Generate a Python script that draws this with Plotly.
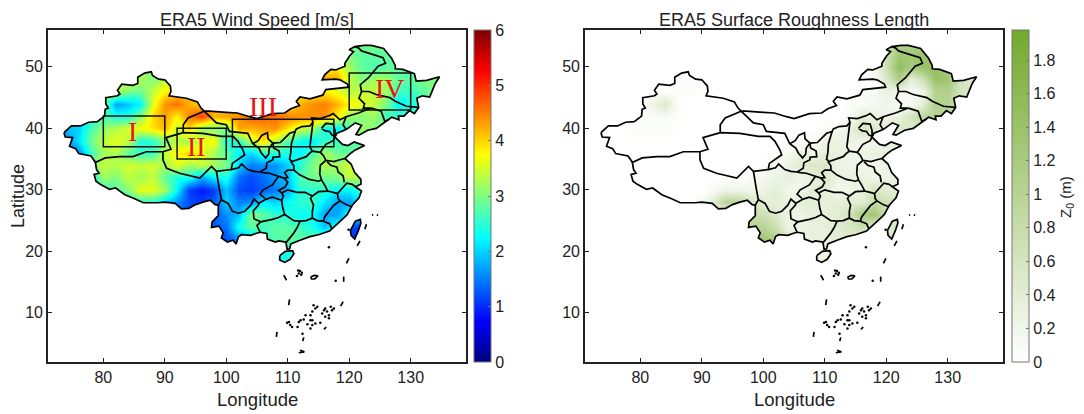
import plotly.graph_objects as go
from plotly.subplots import make_subplots

# grid of both fields (2 degree steps)
lons = list(range(72, 138, 2))
lats = list(range(18, 56, 2))

wind = [
    [2.0,2.0,2.0,2.0,2.0,2.0,2.0,2.0,2.0,2.0,2.0,2.0,2.0,2.0,2.0,2.0,2.0,2.0,2.4,2.4,2.0,2.0,2.0,2.0,1.2,1.2,1.2,1.2,1.2,1.2,1.2,1.2,1.2],
    [2.0,2.0,2.0,2.0,2.0,2.0,2.0,2.0,2.0,2.0,2.0,2.0,2.0,2.0,2.0,2.0,2.0,2.0,2.4,2.4,2.4,2.6,2.6,2.4,1.2,1.2,1.2,1.2,1.2,1.2,1.2,1.2,1.2],
    [1.2,1.2,1.2,1.2,1.2,1.2,1.2,1.2,1.2,1.2,1.2,1.2,1.2,1.2,1.2,1.6,1.8,2.6,2.7,2.8,2.8,2.8,3.0,2.6,1.1,1.0,1.2,1.2,1.2,1.2,1.2,1.2,1.2],
    [1.4,1.4,1.4,1.4,1.4,1.4,1.4,1.4,1.4,1.4,1.4,1.4,1.4,1.3,1.4,2.4,2.8,2.6,2.8,2.8,2.6,2.4,1.9,2.5,1.2,1.0,1.2,1.2,1.2,1.2,1.2,1.2,1.2],
    [1.3,1.3,1.3,1.3,1.3,1.3,1.3,1.3,1.3,1.3,1.3,1.3,1.3,1.3,1.6,1.9,3.0,2.8,2.5,2.4,2.3,2.3,1.7,1.7,2.4,2.4,2.4,2.4,2.4,2.4,2.4,2.4,2.4],
    [2.5,2.5,2.5,2.5,2.5,2.5,2.5,2.5,2.5,2.0,1.6,1.2,1.1,1.3,2.0,1.5,1.6,2.2,2.0,2.3,2.5,2.6,2.1,1.7,1.7,2.2,2.2,2.2,2.2,2.2,2.2,2.2,2.2],
    [2.5,2.5,2.5,2.5,2.5,2.8,3.0,3.6,3.6,3.2,2.2,1.1,0.9,1.1,1.9,1.2,1.1,1.3,1.5,1.8,2.5,2.5,2.5,2.2,2.2,2.6,2.6,2.6,2.6,2.6,2.6,2.6,2.6],
    [2.2,2.2,2.2,2.2,3.2,3.0,3.4,3.2,3.4,2.8,2.4,2.4,1.8,2.2,2.4,1.4,1.2,1.4,1.7,1.9,2.7,2.9,2.9,3.0,3.4,3.2,3.2,3.2,3.2,3.2,3.2,3.2,3.2],
    [3.0,3.0,3.0,3.0,3.4,3.3,3.5,3.4,3.5,3.2,3.6,3.2,3.4,3.2,3.0,2.0,1.5,1.6,1.6,2.0,2.5,3.0,3.3,3.2,3.5,3.4,3.4,3.4,3.4,3.4,3.4,3.4,3.4],
    [1.4,1.4,1.6,2.6,3.2,3.3,2.8,2.6,2.6,3.4,3.8,4.0,3.6,3.2,2.8,2.2,2.0,2.5,2.5,2.4,2.2,2.7,3.2,2.9,2.8,2.8,2.8,2.8,2.8,2.8,2.8,2.8,2.8],
    [1.5,1.5,2.1,2.9,3.4,3.6,3.4,2.4,2.5,3.0,3.4,3.2,3.6,3.8,2.4,2.5,3.4,3.9,3.3,2.7,2.3,2.1,2.6,2.6,2.8,2.8,2.8,2.8,2.8,2.8,2.8,2.8,2.8],
    [2.0,1.9,2.0,2.7,3.1,3.3,3.5,3.7,3.9,4.2,3.4,4.0,3.1,3.0,3.0,4.3,4.2,4.3,4.4,3.9,3.5,3.3,2.3,2.2,2.6,3.2,3.0,3.0,3.0,3.0,3.0,3.0,3.0],
    [2.0,2.0,2.0,2.4,2.7,2.4,2.4,3.0,4.0,4.3,3.8,4.5,4.9,4.2,4.3,4.4,4.7,4.7,4.6,4.5,4.4,4.4,4.4,3.8,3.2,3.0,3.2,2.6,2.6,2.6,2.6,2.6,2.6],
    [3.0,3.0,3.0,3.0,3.0,1.7,1.9,2.2,3.6,4.4,4.6,4.2,4.0,4.0,4.0,4.0,4.0,4.0,4.0,3.8,4.2,4.4,4.5,4.2,3.8,3.6,3.4,3.0,2.2,2.4,2.6,2.6,2.6],
    [3.2,3.2,3.2,3.2,3.2,3.3,3.0,2.9,3.4,3.8,4.0,4.0,4.0,4.0,4.0,4.0,4.0,4.0,4.0,3.8,3.8,3.8,3.8,3.6,3.3,3.4,3.4,3.2,2.6,2.6,2.8,3.0,3.0],
    [3.5,3.5,3.5,3.5,3.5,3.5,3.4,3.3,3.0,3.4,3.5,3.5,3.5,3.5,3.5,3.5,3.5,3.5,3.5,3.5,3.5,4.3,4.3,4.3,3.4,3.0,3.2,3.2,2.8,2.8,3.0,3.0,3.0],
    [3.0,3.0,3.0,3.0,3.0,3.0,3.0,3.0,3.0,3.0,3.0,3.0,3.0,3.0,3.0,3.0,3.0,3.0,3.0,3.0,3.0,3.8,3.8,3.8,3.2,2.8,2.7,2.8,2.8,2.8,2.8,2.8,2.8],
    [2.8,2.8,2.8,2.8,2.8,2.8,2.8,2.8,2.8,2.8,2.8,2.8,2.8,2.8,2.8,2.8,2.8,2.8,2.8,2.8,2.8,2.8,2.8,3.0,3.0,2.8,2.8,2.8,2.8,2.8,2.8,2.8,2.8],
    [2.8,2.8,2.8,2.8,2.8,2.8,2.8,2.8,2.8,2.8,2.8,2.8,2.8,2.8,2.8,2.8,2.8,2.8,2.8,2.8,2.8,2.8,2.8,3.0,3.0,3.0,3.0,3.0,3.0,3.0,3.0,3.0,3.0],
]

roughness = [
    [0,0,0,0,0,0,0,0,0,0,0,0,0,0,0,0,0,0,.25,.25,.25,.25,.25,.25,.5,.4,0,0,0,0,0,0,0],
    [0,0,0,0,0,0,0,0,0,0,0,0,0,0,0,0,0,0,.25,.25,.25,.25,.25,.25,.5,.4,0,0,0,0,0,0,0],
    [0,0,0,0,0,0,0,0,0,0,0,0,0,1.2,1.3,1.1,.5,.3,.35,.3,.4,.4,.4,.4,.5,.4,0,0,0,0,0,0,0],
    [0,0,0,0,0,0,0,0,0,0,0,0,0,1.0,1.0,.7,.25,.25,.3,.35,.45,.55,.7,.4,.5,.5,0,0,0,0,0,0,0],
    [0,0,0,0,0,0,0,0,0,0,0,0,0,.8,.7,.5,.2,.25,.35,.35,.4,.6,1.2,1.3,.7,.5,0,0,0,0,0,0,0],
    [0,0,0,0,0,0,0,0,0,.1,.5,1.0,1.0,.6,.4,.35,.3,.35,.4,.35,.35,.45,.4,.8,.7,.5,0,0,0,0,0,0,0],
    [0,0,0,0,0,0,0,0,0,0,.1,.25,.2,.2,.25,.4,.15,.2,.4,.4,.15,.2,.3,.6,.4,.4,0,0,0,0,0,0,0],
    [0,0,0,0,0,0,0,0,0,0,0,0,0,.1,.15,.25,.35,.2,.35,.5,.25,.3,.3,.2,.25,.3,0,0,0,0,0,0,0],
    [0,0,0,0,0,0,0,0,0,0,0,0,0,0,.03,.15,.3,.4,.5,.5,.25,.2,.2,.2,.25,.25,0,0,0,0,0,0,0],
    [0,0,0,0,0,0,0,0,0,0,0,0,0,0,0,.05,.1,.3,.2,.35,.3,.25,.25,.3,.3,.3,0,0,0,0,0,0,0],
    [0,0,0,0,0,0,0,0,0,0,0,0,0,0,0,0,.05,.05,.1,.25,.3,.25,.2,.2,.3,.3,0,0,0,0,0,0,0],
    [0,0,0,.03,.05,.05,.05,.02,0,0,0,0,0,0,0,0,0,0,0,.05,.1,.3,.6,.5,.4,.5,.5,.5,.5,0,0,0,0],
    [0,0,0,.03,.05,.05,.08,.03,0,0,0,0,0,0,0,0,0,0,0,0,0,.05,.4,.25,.25,.3,.6,.9,1.0,.8,.5,0,0],
    [0,0,0,0,.05,.25,.5,.05,0,0,0,0,0,0,0,0,0,0,0,0,0,.05,.08,.15,.2,.1,.1,.4,1.1,1.0,.8,.5,0],
    [0,0,0,0,0,.02,.02,.03,.03,.02,0,0,0,0,0,0,0,0,0,0,0,.02,.08,.1,.3,.15,.08,.2,1.0,1.1,.6,.5,.5],
    [0,0,0,0,0,0,.03,.05,.1,.03,0,0,0,0,0,0,0,0,0,0,0,0,.02,.1,.5,1.1,.35,.7,1.4,1.3,.6,.5,.5],
    [0,0,0,0,0,0,0,0,0,0,0,0,0,0,0,0,0,0,0,0,0,0,0,.15,.7,1.5,1.2,1.4,1.5,1.2,.6,0,0],
    [0,0,0,0,0,0,0,0,0,0,0,0,0,0,0,0,0,0,0,0,0,0,0,.15,.7,1.3,1.3,1.4,1.4,1.0,0,0,0],
    [0,0,0,0,0,0,0,0,0,0,0,0,0,0,0,0,0,0,0,0,0,0,0,.15,.7,1.0,1.0,1.0,1.0,.9,0,0,0],
]

wind_ticks = [0, 1, 2, 3, 4, 5, 6]
rough_ticks = [0, 0.2, 0.4, 0.6, 0.8, 1, 1.2, 1.4, 1.6, 1.8]
lon_ticks = [80, 90, 100, 110, 120, 130]
lat_ticks = [10, 20, 30, 40, 50]

# (lon, lat), clockwise from the western tip
china = [(73.6,39.3),(74.8,40.4),(76.3,40.4),(77.6,41.0),(79.0,41.1),(80.2,42.0),(80.3,43.1),(80.8,43.3),(80.4,44.0),(80.4,45.0),
    (82.3,45.3),(82.7,45.6),(82.3,46.2),(83.0,47.2),(84.8,47.0),(85.6,47.3),(85.6,48.3),(86.7,49.0),(87.8,49.2),(88.0,48.6),
    (89.0,48.0),(90.0,47.9),(90.9,46.9),(91.0,46.0),(90.7,45.3),(92.0,45.1),(93.5,44.9),(95.3,44.3),(95.9,43.3),(96.4,42.8),
    (97.2,42.8),(100.0,42.6),(101.8,42.5),(103.8,41.9),(105.0,41.6),(107.5,42.4),(109.5,42.5),(110.5,43.2),(111.9,43.7),(111.4,44.4),
    (112.0,45.1),(113.6,44.8),(115.7,45.4),(116.2,46.3),(117.4,46.4),(119.9,46.7),(119.7,47.2),(118.5,47.9),(117.8,48.0),(115.6,47.9),
    (116.0,48.7),(117.0,49.6),(117.8,49.5),(119.3,50.1),(119.3,50.6),(120.0,51.7),(120.7,52.5),(120.0,52.8),(120.9,53.3),(122.4,53.5),
    (123.6,53.5),(125.6,53.0),(126.9,51.4),(127.5,50.2),(127.5,49.7),(128.7,49.6),(130.6,48.9),(130.9,47.7),(132.6,47.8),(134.7,48.4),
    (134.0,47.3),(133.1,45.1),(131.9,45.3),(131.0,44.9),(131.3,43.4),(130.6,42.4),(129.8,42.9),(128.9,42.0),(128.0,42.0),(128.1,41.4),
    (126.9,41.8),(125.3,40.6),(124.4,40.0),(123.0,39.7),(121.6,38.9),(121.1,39.0),(122.0,40.5),(121.0,40.9),(119.5,39.8),(118.0,39.2),
    (117.7,38.6),(118.9,37.4),(119.8,37.2),(120.8,37.8),(122.5,37.2),(121.0,36.5),(120.3,36.0),(119.3,35.1),(120.3,34.2),(120.9,32.8),
    (121.9,31.7),(121.9,30.9),(121.0,30.5),(122.0,29.8),(121.6,28.7),(120.5,27.5),(119.7,26.0),(119.0,25.3),(118.0,24.4),(116.8,23.3),
    (115.0,22.7),(113.6,22.4),(112.0,21.8),(110.5,21.2),(110.3,20.4),(109.9,20.3),(109.7,21.5),(108.5,21.7),(108.0,21.5),(106.7,22.0),
    (106.6,22.9),(105.5,23.1),(104.8,22.9),(104.0,22.6),(102.5,22.7),(102.0,22.4),(101.6,21.2),(101.1,21.8),(100.2,21.5),(99.2,22.2),
    (99.5,23.0),(98.8,24.1),(97.6,23.9),(97.7,24.8),(98.7,25.8),(98.7,27.5),(98.2,27.6),(97.4,28.3),(96.2,28.0),(95.0,27.6),
    (93.9,27.0),(92.7,26.9),(91.7,27.8),(90.0,28.0),(88.9,27.9),(88.1,27.9),(86.5,27.9),(85.0,28.6),(83.5,29.2),(82.0,30.3),
    (81.0,30.1),(79.5,30.9),(78.8,31.4),(78.5,32.5),(79.3,32.7),(78.9,33.3),(78.7,34.5),(78.0,35.5),(76.0,35.9),(75.5,36.7),
    (74.5,37.1),(75.0,38.5),(73.8,38.6),(73.6,39.3)]
hainan = [(108.7,19.3),(109.6,20.0),(110.8,20.1),(111.0,19.6),(110.4,18.7),(109.5,18.2),(108.7,18.6),(108.7,19.3)]
taiwan = [(120.2,23.4),(121.0,24.9),(121.8,25.2),(121.9,24.6),(121.5,23.4),(120.9,22.0),(120.3,22.6),(120.2,23.4)]
macclesfield = [(113.7,15.8),(114.3,16.1),(114.9,16.0),(114.4,15.5),(113.9,15.5),(113.7,15.8)]

provinces = [
    [(78.6,34.4),(80.3,35.2),(82.7,35.4),(84.8,35.4),(87.0,36.2),(89.7,36.2),(91.0,36.6),(90.2,38.5),(93.0,39.3),(96.2,39.2),(99.2,38.7),(101.1,38.7),(101.9,37.9),(102.7,36.5),(103.0,35.7),(101.0,34.3),(100.8,33.3),(98.4,33.0),(97.6,33.8),(95.7,31.9),(92.4,32.7),(90.3,33.5),(89.7,34.9),(89.7,36.2)],
    [(93.0,39.3),(93.0,40.6),(93.8,41.7),(96.4,42.8)],
    [(98.4,33.0),(98.6,31.6),(98.9,30.0),(99.2,28.4),(98.7,27.5)],
    [(96.4,42.8),(98.4,40.9),(100.0,40.6),(100.5,39.5),(103.5,39.2),(104.0,38.1),(104.3,37.5)],
    [(104.3,37.5),(105.2,38.0),(105.8,38.9),(106.7,39.3),(106.8,38.3),(107.6,37.6),(107.0,36.8),(106.9,35.8),(106.4,35.2),(105.7,36.0),(105.3,36.8),(104.3,37.5)],
    [(107.6,37.6),(108.8,37.7),(110.3,39.2),(111.2,39.5),(111.4,39.9),(112.3,40.3),(113.6,40.4),(114.1,41.0),(113.9,41.7),(115.3,41.6),(116.8,42.1),(117.4,42.4),(118.5,41.4),(119.5,41.9),(121.5,42.5),(123.6,43.3),(122.3,43.3),(122.5,44.0),(121.6,44.9),(122.0,46.0),(121.8,47.1),(123.1,48.2),(124.7,50.1),(125.9,50.6),(125.5,51.5),(122.0,52.6),(121.5,53.1),(120.9,53.3)],
    [(122.0,46.0),(123.2,46.0),(124.4,45.5),(126.6,45.0),(127.5,44.4),(129.3,43.6),(131.2,43.4)],
    [(123.6,43.3),(125.2,42.8),(125.8,41.1),(126.5,41.5)],
    [(119.5,41.9),(119.0,40.6),(119.5,39.8)],
    [(115.5,40.0),(116.2,40.8),(117.4,40.7),(117.7,39.6),(117.7,38.7),(117.2,38.9),(116.8,39.5),(116.1,39.6),(115.5,40.0)],
    [(114.1,41.0),(114.0,40.0),(113.8,39.0),(113.7,37.8),(113.6,37.0),(114.0,36.3),(115.3,36.1),(116.2,37.4),(117.4,38.0),(117.7,38.6)],
    [(111.2,39.5),(110.9,38.5),(110.6,37.5),(110.5,36.0),(110.3,35.0),(110.7,34.6),(112.0,35.0),(113.0,35.4),(113.6,36.0),(114.0,36.3)],
    [(110.5,34.6),(111.0,33.9),(111.0,33.2),(110.0,33.2),(109.5,32.8),(110.0,32.0),(109.4,31.9),(108.5,32.2),(107.0,32.7),(106.0,32.8),(105.5,32.9),(106.5,33.5),(106.6,34.4),(107.6,34.9),(107.6,35.3),(108.7,35.4),(108.6,36.3),(107.7,36.8),(107.6,37.6)],
    [(105.5,32.9),(104.5,33.0),(103.5,33.3),(102.5,34.2),(102.0,33.6),(100.8,33.3)],
    [(115.3,36.1),(115.8,35.6),(116.2,34.8),(117.5,34.6),(118.5,34.9),(119.3,35.1)],
    [(116.2,34.8),(115.3,34.0),(115.2,32.6),(115.5,31.6),(116.1,30.6),(116.5,29.8),(117.4,29.6),(118.1,29.4),(118.9,30.3),(119.6,31.1),(120.5,30.9),(121.0,30.5)],
    [(116.4,34.6),(117.0,34.0),(118.0,33.7),(118.2,32.9),(119.0,32.3),(119.2,31.2)],
    [(111.0,33.2),(112.0,32.4),(113.5,31.7),(115.0,31.4),(115.5,31.6)],
    [(118.1,29.4),(118.2,28.6),(118.5,28.2),(119.5,27.6),(120.5,27.2)],
    [(118.5,28.2),(117.5,27.5),(116.7,26.5),(116.0,25.6),(115.8,24.9),(116.8,24.5),(117.2,23.6)],
    [(115.8,24.9),(114.8,25.0),(114.0,25.4),(114.0,26.5),(114.2,27.5),(113.7,28.6),(114.0,29.0),(115.0,29.7),(116.5,29.8)],
    [(109.0,29.5),(110.0,30.0),(111.5,29.6),(112.8,29.6),(114.0,29.0)],
    [(109.4,31.9),(110.0,31.2),(109.6,30.5),(108.5,29.9),(109.0,29.5),(109.3,29.0),(109.0,28.3),(109.2,27.0),(109.5,26.0),(110.3,25.5),(111.0,25.0),(112.0,24.9),(113.0,25.0),(114.0,25.4)],
    [(112.0,24.9),(111.6,24.0),(111.0,23.0),(109.8,21.5)],
    [(109.5,26.0),(108.5,25.5),(107.5,25.2),(106.5,25.0),(105.6,24.8),(105.0,24.2),(105.5,23.1)],
    [(109.0,28.3),(107.5,28.8),(106.5,28.5),(105.3,27.8),(105.2,27.5),(104.4,26.6),(104.5,25.3),(105.6,24.8)],
    [(99.2,28.4),(100.3,27.8),(101.0,26.5),(102.0,26.2),(103.0,26.5),(104.0,27.5),(104.5,28.5),(105.3,27.8)],
    [(108.5,32.2),(107.5,30.8),(106.0,30.0),(105.5,29.3),(106.3,28.6)],
]

dashes = [[(109.35,16.14),(109.8,15.3)],[(110.3,12.2),(110.15,11.25)],[(108.26,6.9),(108.15,6.1)],[(112.6,6.0),(112.45,5.4)],
    [(111.8,3.5),(112.7,3.65),(112.0,3.9)],[(115.9,7.3),(116.25,7.7)],[(118.6,11.1),(119.0,11.8)],[(119.1,15.9),(119.1,15.05)],
    [(119.95,18.85),(119.55,18.05)],[(121.75,21.7),(121.3,20.9)],[(122.8,24.4),(122.55,23.6)],[(123.7,25.9),(123.9,25.95)],[(124.5,25.95),(124.7,25.85)]]

island_lon = [116.7,117.8,119.9,111.8,112.0,111.5,112.2,111.7,112.3,114.2,114.5,114.0,114.8,113.7,115.9,116.4,115.6,116.1,117.0,117.2,116.7,116.1,117.5,116.7,112.9,112.6,111.8,112.1,114.0,113.7,113.2,114.0,114.5,115.3,113.7,111.6,109.9,110.2,110.4,110.7,112.4]
island_lat = [20.65,15.2,23.5,16.4,16.8,16.0,16.2,16.9,16.5,11.25,10.7,10.2,11.0,9.6,10.4,10.2,9.9,10.7,11.0,10.4,9.6,9.35,10.7,9.1,9.6,8.9,8.5,8.8,8.8,8.8,8.15,8.0,8.25,8.4,7.45,7.7,8.4,8.5,8.0,7.7,6.6]

boxes = [(80, 90, 37, 42), (92, 100, 35, 40), (101, 117.5, 37, 41.5), (120, 130, 43, 49)]
box_labels = ["I", "II", "III", "IV"]
label_lon = [84.8, 95.2, 106.0, 126.7]
label_lat = [39.5, 37.0, 43.6, 46.5]

jet = [[0, "#00007f"], [0.125, "#0000ff"], [0.375, "#00ffff"], [0.625, "#ffff00"], [0.875, "#ff0000"], [1, "#7f0000"]]
greens = [[0, "#ffffff"], [1, "#72a92c"]]
font_name = "Liberation Sans"

# the page has an 8px body margin, so positions below are page pixels minus that
PAD = 8
W, H = 1084 - PAD, 414 - PAD


def px(x):
    return (x - PAD) / W


def py(y):
    return 1 - (y - PAD) / H


def flatten(lines):
    xs, ys = [], []
    for line in lines:
        xs += [p[0] for p in line] + [None]
        ys += [p[1] for p in line] + [None]
    return xs, ys


fig = make_subplots(rows=1, cols=2)

bar_y, bar_len = py(362), py(30) - py(362)
fig.add_trace(go.Heatmap(x=lons, y=lats, z=wind, zmin=0, zmax=6, zsmooth="best", colorscale=jet, hoverinfo="skip",
                         colorbar=dict(x=px(474), xanchor="left", xpad=0, y=bar_y, yanchor="bottom", ypad=0, len=bar_len,
                                       thickness=17, tickvals=wind_ticks, ticks="inside", ticklen=3, outlinewidth=1,
                                       outlinecolor="#777777", tickcolor="#777777", tickfont=dict(size=16, color="#222222"))),
              row=1, col=1)
fig.add_trace(go.Heatmap(x=lons, y=lats, z=roughness, zmin=0, zmax=1.98, zsmooth="best", colorscale=greens, hoverinfo="skip",
                         colorbar=dict(x=px(1012), xanchor="left", xpad=0, y=bar_y, yanchor="bottom", ypad=0, len=bar_len,
                                       thickness=17, tickvals=rough_ticks, ticktext=[str(t) for t in rough_ticks], ticks="inside",
                                       ticklen=3, outlinewidth=1, outlinecolor="#777777", tickcolor="#777777",
                                       tickfont=dict(size=16, color="#222222"))),
              row=1, col=2)

# white sheet with holes over the land, hides the grid outside the borders
sheet = [[(71, 2), (139, 2), (139, 56), (71, 56), (71, 2)], china, hainan, taiwan]
sheet_x, sheet_y = flatten(sheet)
line_x, line_y = flatten([china, hainan, taiwan, macclesfield] + provinces + dashes)

for col in [1, 2]:
    fig.add_trace(go.Scatter(x=sheet_x, y=sheet_y, mode="none", fill="toself", fillcolor="white", hoverinfo="skip",
                             showlegend=False), row=1, col=col)
    fig.add_trace(go.Scatter(x=line_x, y=line_y, mode="lines", line=dict(color="black", width=1.7), hoverinfo="skip",
                             showlegend=False), row=1, col=col)
    fig.add_trace(go.Scatter(x=island_lon, y=island_lat, mode="markers", marker=dict(color="black", size=2.5),
                             hoverinfo="skip", showlegend=False), row=1, col=col)

for b in boxes:
    fig.add_shape(type="rect", x0=b[0], x1=b[1], y0=b[2], y1=b[3], line=dict(color="#111111", width=1.5), row=1, col=1)

for name, x, y in zip(box_labels, label_lon, label_lat):
    fig.add_annotation(x=x, y=y, xref="x", yref="y", text=name, showarrow=False,
                       font=dict(family="Liberation Serif", size=28, color="#ee1111"))

axis = dict(range=[71, 139], tickvals=lon_ticks, ticks="inside", ticklen=4, tickwidth=1.2, tickcolor="#222222", showgrid=False,
            zeroline=False, showline=True, linewidth=1.6, linecolor="#222222", mirror="ticks", tickfont=dict(size=16, color="#222222"))
yaxis = dict(axis, range=[2, 56], tickvals=lat_ticks)

fig.update_xaxes(axis)
fig.update_yaxes(yaxis)
fig.update_xaxes(domain=[px(48), px(466)], row=1, col=1)
fig.update_xaxes(domain=[px(585), px(1003)], row=1, col=2)
fig.update_yaxes(domain=[py(362), py(30)])

texts = [("ERA5 Wind Speed [m/s]", 257, 20, 18, 0), ("ERA5 Surface Roughness Length", 794, 20, 18, 0),
         ("Longitude", 257, 399, 18.5, 0), ("Longitude", 794, 399, 18.5, 0), ("Latitude", 18, 196, 18, -90),
         ("Z<sub>0</sub> (m)", 1067, 197, 15, -90)]
for text, x, y, size, angle in texts:
    fig.add_annotation(x=px(x), y=py(y), xref="paper", yref="paper", xanchor="center", yanchor="middle", text=text,
                       showarrow=False, textangle=angle, font=dict(size=size, color="#222222"))

fig.update_layout(width=W, height=H, margin=dict(l=0, r=0, t=0, b=0), plot_bgcolor="white", paper_bgcolor="white",
                  font=dict(family=font_name), showlegend=False)
fig.write_html("out.html")
